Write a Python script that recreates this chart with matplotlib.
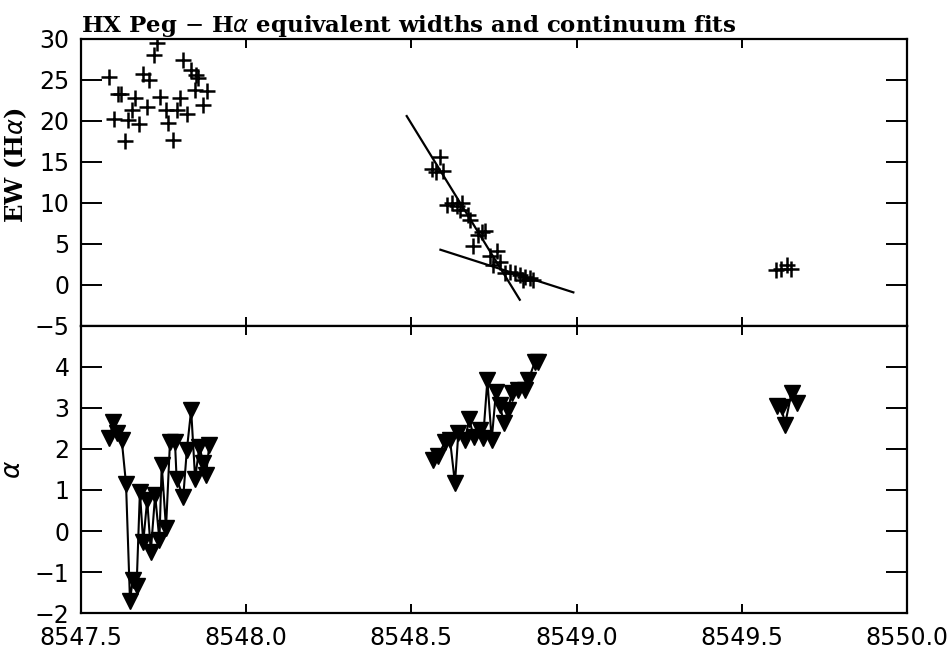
import matplotlib.pyplot as plt
import numpy as np

# EW(Halpha) measurements, three nights
ew_x = [8547.586, 8547.601, 8547.614, 8547.621, 8547.634, 8547.644, 8547.654, 8547.664,
        8547.677, 8547.689, 8547.700, 8547.707, 8547.723, 8547.730, 8547.740, 8547.758,
        8547.765, 8547.780, 8547.790, 8547.800, 8547.810, 8547.820, 8547.834, 8547.846,
        8547.849, 8547.856, 8547.869, 8547.881,
        8548.561, 8548.576, 8548.588, 8548.596, 8548.607, 8548.622, 8548.637, 8548.647,
        8548.652, 8548.672, 8548.677, 8548.687, 8548.702, 8548.713, 8548.723, 8548.738,
        8548.748, 8548.758, 8548.768, 8548.783, 8548.798, 8548.813, 8548.828, 8548.838,
        8548.844, 8548.859, 8548.869,
        8549.602, 8549.617, 8549.635, 8549.647]
ew_y = [25.4, 20.3, 23.3, 23.3, 17.6, 20.1, 21.3, 22.8,
        19.6, 25.7, 21.7, 25.0, 28.0, 29.5, 22.9, 21.4,
        19.8, 17.7, 21.4, 22.8, 27.4, 20.9, 26.2, 23.8,
        25.6, 25.2, 22.0, 23.7,
        14.2, 13.8, 15.6, 13.9, 9.8, 10.0, 9.6, 9.2,
        10.0, 8.5, 7.9, 4.8, 6.1, 6.5, 6.6, 3.5,
        2.4, 4.1, 2.8, 1.5, 1.6, 1.4, 1.2, 0.6,
        1.0, 0.8, 0.6,
        1.8, 2.0, 2.4, 1.9]

# continuum fits (two straight lines, endpoints)
fit1_x = [8548.486, 8548.828]
fit1_y = [20.6, -1.8]
fit2_x = [8548.588, 8548.990]
fit2_y = [4.3, -0.9]

# alpha, one list per night
a1_x = [8547.587, 8547.599, 8547.609, 8547.624, 8547.637, 8547.649, 8547.657, 8547.669,
        8547.679, 8547.689, 8547.701, 8547.712, 8547.725, 8547.738, 8547.745, 8547.758,
        8547.770, 8547.785, 8547.790, 8547.810, 8547.821, 8547.834, 8547.846, 8547.859,
        8547.871, 8547.879, 8547.889]
a1_y = [2.26, 2.67, 2.38, 2.22, 1.15, -1.70, -1.20, -1.34,
        0.96, -0.28, 0.76, -0.50, 0.88, -0.22, 1.61, 0.07,
        2.18, 2.18, 1.28, 0.82, 1.98, 2.95, 1.28, 2.06,
        1.65, 1.37, 2.10]
a2_x = [8548.566, 8548.581, 8548.602, 8548.617, 8548.632, 8548.642, 8548.662, 8548.675,
        8548.689, 8548.707, 8548.717, 8548.730, 8548.743, 8548.756, 8548.768, 8548.780,
        8548.793, 8548.803, 8548.823, 8548.844, 8548.854, 8548.874, 8548.884]
a2_y = [1.73, 1.83, 2.18, 2.22, 1.16, 2.38, 2.22, 2.72,
        2.30, 2.46, 2.26, 3.68, 2.22, 3.40, 3.07, 2.63,
        2.95, 3.36, 3.44, 3.44, 3.68, 4.13, 4.13]
a3_x = [8549.605, 8549.620, 8549.630, 8549.650, 8549.667]
a3_y = [3.05, 3.02, 2.59, 3.37, 3.11]

fig = plt.figure(figsize=(9.52, 6.5), dpi=100)
ax1 = fig.add_axes([0.0848, 0.4985, 0.8682, 0.4415])
ax2 = fig.add_axes([0.0848, 0.0569, 0.8682, 0.4416], sharex=ax1)

tickfont = 'DejaVu Sans'
serif = 'DejaVu Serif'

ax1.plot(ew_x, ew_y, '+', color='black', markersize=12, mew=1.8)
ax1.plot(fit1_x, fit1_y, '-', color='black', lw=1.6)
ax1.plot(fit2_x, fit2_y, '-', color='black', lw=1.6)

for xs, ys in [(a1_x, a1_y), (a2_x, a2_y), (a3_x, a3_y)]:
    ax2.plot(xs, ys, '-', color='black', lw=1.5)
    ax2.plot(xs, ys, 'v', color='black', markersize=11, linestyle='none')

ax1.set_xlim(8547.5, 8550.0)
ax1.set_ylim(-5, 30)
ax2.set_ylim(-2, 5)
ax1.set_yticks(np.arange(-5, 31, 5))
ax2.set_yticks(np.arange(-2, 5, 1))
ax2.set_xticks(np.arange(8547.5, 8550.01, 0.5))
ax2.set_xticklabels(['%.1f' % v for v in np.arange(8547.5, 8550.01, 0.5)])

for ax in (ax1, ax2):
    for s in ax.spines.values():
        s.set_linewidth(1.6)
    ax.tick_params(axis='both', direction='in', top=True, right=True, width=1.4)
    ax.tick_params(axis='y', length=15, pad=8, labelsize=17)
    ax.tick_params(axis='x', length=6.5, pad=9, labelsize=17)
    for lab in ax.get_xticklabels() + ax.get_yticklabels():
        lab.set_family(tickfont)
        lab.set_fontweight('medium')
ax1.tick_params(axis='x', labelbottom=False)

ax1.set_ylabel(r'EW (H$\alpha$)', family=serif, fontweight='bold', fontsize=17.5)
ax1.yaxis.set_label_coords(-0.062, 0.56)
ax2.set_ylabel(r'$\alpha$', fontsize=19)
ax2.yaxis.set_label_coords(-0.066, 0.5)

ax1.set_title(r'HX Peg $-$ H$\alpha$ equivalent widths and continuum fits',
              loc='left', family=serif, fontweight='bold', fontsize=16.5, pad=5)

plt.savefig('out.png', dpi=100)
